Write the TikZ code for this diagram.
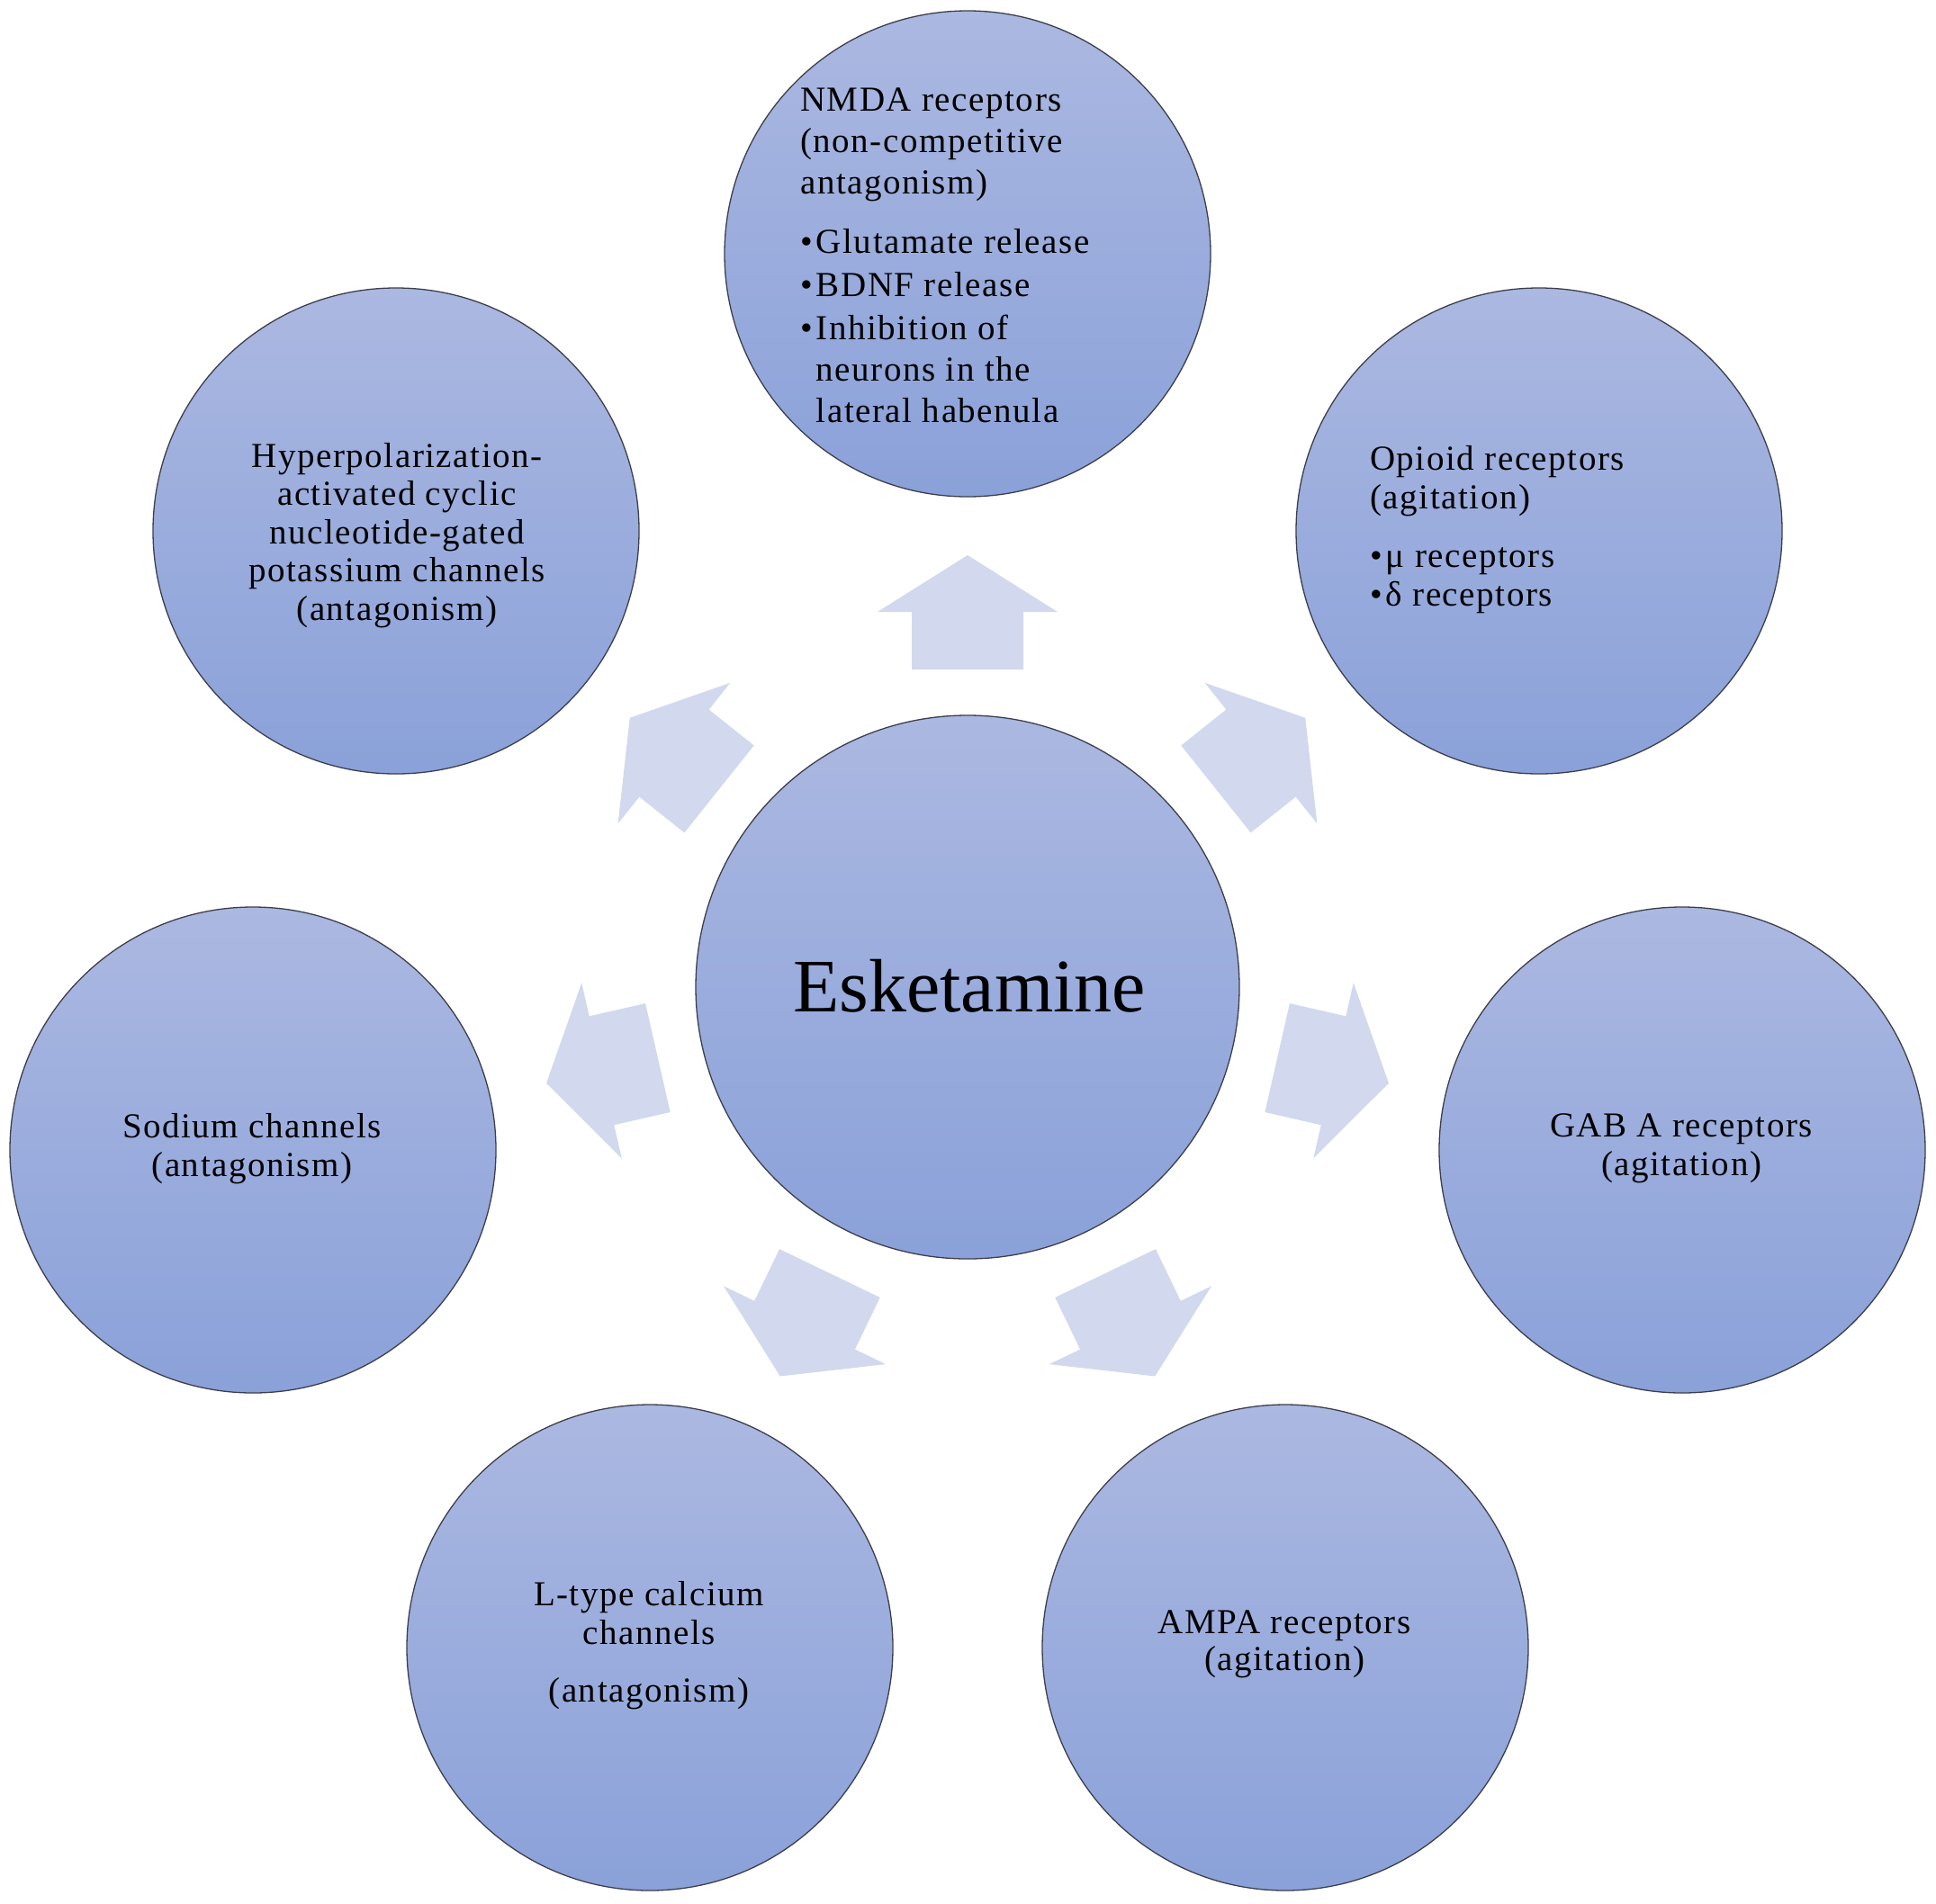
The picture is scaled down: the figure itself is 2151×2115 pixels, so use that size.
\documentclass[tikz,border=0pt]{standalone}
\usepackage{fontspec}
\setmainfont{Liberation Serif}
\newfontfamily\lblfont[LetterSpace=4]{Liberation Serif}
\definecolor{ctop}{RGB}{171,184,225}
\definecolor{cbot}{RGB}{138,161,217}
\definecolor{arr}{RGB}{210,216,238}
\definecolor{edge}{RGB}{60,62,75}
\tikzset{
  bubble/.style={circle, draw=edge, line width=1.3pt, top color=ctop, bottom color=cbot, minimum size=540pt, inner sep=0pt},
  hub/.style={bubble, minimum size=604pt},
  lbl/.style={inner sep=0pt, font=\lblfont\fontsize{39}{43}\selectfont, text=black},
  blockarrow/.style={fill=arr, draw=none}
}
\newcommand{\bul}{\textbullet\hspace{4pt}}
\newcommand{\nobul}{\phantom{\textbullet}\hspace{4pt}}
\begin{document}
\begin{tikzpicture}[x=1pt,y=-1pt]
\useasboundingbox (0,0) rectangle (2151,2115);
% hub
\node[hub] (c) at (1075,1097) {};
% outer circles
\node[bubble] (n1) at (1075,282) {};
\node[bubble] (n2) at (1710,590) {};
\node[bubble] (n3) at (1869,1278) {};
\node[bubble] (n4) at (1428,1831) {};
\node[bubble] (n5) at (722,1831) {};
\node[bubble] (n6) at (281,1278) {};
\node[bubble] (n7) at (440,590) {};
% block arrows from hub outward
\foreach \a in {90, 38.571, -12.857, -64.286, -115.714, -167.143, -218.571}{
  \fill[blockarrow, shift={(c.center)}, rotate=\a]
    (353,-62) -- (417,-62) -- (417,-100) -- (480,0) -- (417,100) -- (417,62) -- (353,62) -- cycle;
}
% texts (anchor base = baseline of the last line)
\node[inner sep=0pt, font=\fontsize{84}{90}\selectfont, anchor=base] (t0) at (1077,1124) {Esketamine};
\node[lbl, font=\lblfont\fontsize{39}{46}\selectfont, align=left, anchor=base west] (t1) at (889,469)
  {NMDA receptors\\(non-competitive\\antagonism)\\[20pt]\bul Glutamate release\\[2pt]\bul BDNF release\\[2pt]\bul Inhibition of\\\nobul neurons in the\\\nobul lateral habenula};
\node[lbl, align=left, anchor=base west] (t2) at (1522,673)
  {Opioid receptors\\(agitation)\\[22pt]\bul μ receptors\\\bul δ receptors};
\node[lbl, align=center, anchor=base] (t3) at (1868,1306) {GAB A receptors\\(agitation)};
\node[lbl, align=center, anchor=base, font=\lblfont\fontsize{39}{41}\selectfont] (t4) at (1427,1856) {AMPA receptors\\(agitation)};
\node[lbl, align=center, anchor=base] (t5) at (721,1891) {L-type calcium\\channels\\[21pt](antagonism)};
\node[lbl, align=center, anchor=base] (t6) at (280,1307) {Sodium channels\\(antagonism)};
\node[lbl, align=center, anchor=base, font=\lblfont\fontsize{39}{42.5}\selectfont] (t7) at (441,689)
  {Hyperpolarization-\\activated cyclic\\nucleotide-gated\\potassium channels\\(antagonism)};
\end{tikzpicture}
\end{document}
